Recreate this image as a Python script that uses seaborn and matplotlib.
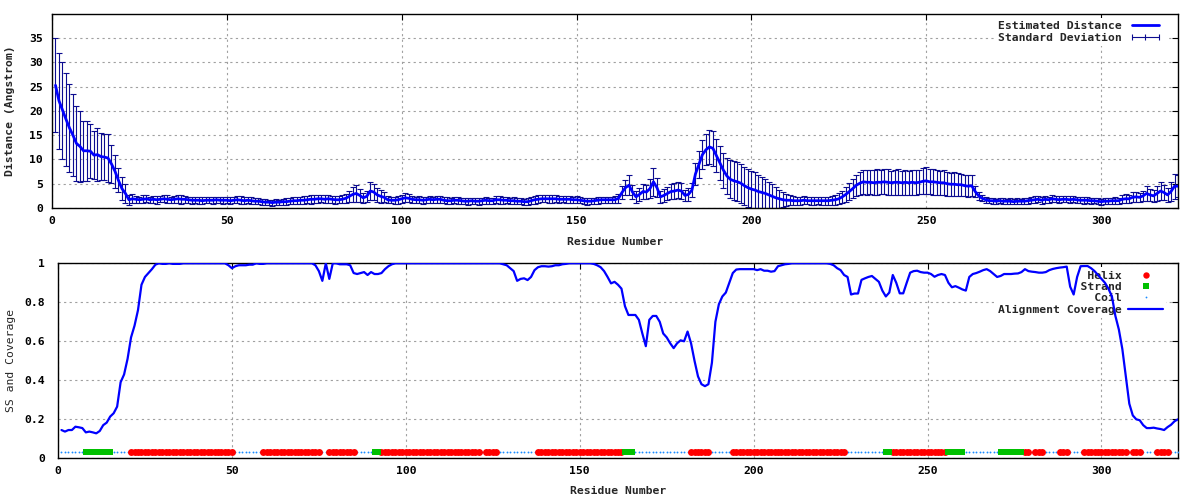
import numpy as np
import seaborn as sns
from matplotlib import pyplot as plt
from matplotlib.lines import Line2D


# --- Data (one value per residue) ---
residue = np.arange(1, 323)

distance = [
    25.3, 22.1, 20.2, 18.3, 16.5, 15.0, 13.3, 12.7, 11.8, 11.8,
    11.7, 10.9, 11.0, 10.6, 10.5, 10.3, 9.1, 7.6, 5.7, 4.0,
    3.0, 1.7, 1.9, 1.8, 1.7, 1.8, 1.9, 1.7, 1.8, 1.7,
    1.8, 1.9, 1.8, 1.7, 1.8, 1.9, 1.8, 1.8, 1.7, 1.6,
    1.6, 1.6, 1.5, 1.6, 1.6, 1.6, 1.7, 1.6, 1.6, 1.6,
    1.5, 1.6, 1.7, 1.6, 1.5, 1.6, 1.5, 1.4, 1.4, 1.3,
    1.2, 1.2, 1.1, 1.2, 1.2, 1.3, 1.3, 1.4, 1.5, 1.5,
    1.6, 1.6, 1.7, 1.8, 1.8, 1.9, 1.9, 1.8, 1.9, 1.8,
    1.7, 1.7, 1.8, 2.0, 2.4, 2.8, 3.0, 2.6, 2.1, 2.4,
    3.5, 3.3, 2.7, 2.4, 2.2, 1.7, 1.6, 1.6, 1.7, 1.9,
    2.1, 2.0, 1.8, 1.7, 1.7, 1.6, 1.7, 1.8, 1.7, 1.8,
    1.8, 1.6, 1.5, 1.5, 1.6, 1.6, 1.5, 1.4, 1.4, 1.5,
    1.4, 1.4, 1.5, 1.6, 1.5, 1.5, 1.7, 1.7, 1.6, 1.6,
    1.5, 1.5, 1.4, 1.4, 1.3, 1.3, 1.5, 1.7, 1.8, 1.9,
    1.9, 1.9, 1.9, 1.9, 1.8, 1.8, 1.8, 1.8, 1.7, 1.7,
    1.6, 1.5, 1.4, 1.4, 1.5, 1.6, 1.7, 1.7, 1.7, 1.7,
    1.7, 2.0, 3.2, 4.2, 4.7, 3.3, 2.3, 2.8, 3.4, 3.3,
    4.0, 5.4, 4.2, 2.3, 2.6, 3.0, 3.4, 3.5, 3.7, 3.5,
    2.6, 2.8, 3.7, 7.0, 9.0, 11.0, 12.0, 12.6, 12.3, 10.8,
    9.3, 7.8, 6.6, 5.9, 5.6, 5.4, 5.1, 4.6, 4.2, 3.9,
    3.7, 3.4, 3.2, 3.0, 2.7, 2.4, 2.1, 1.9, 1.7, 1.6,
    1.6, 1.5, 1.5, 1.5, 1.6, 1.5, 1.5, 1.5, 1.5, 1.5,
    1.5, 1.5, 1.6, 1.7, 1.9, 2.3, 2.8, 3.4, 4.0, 4.7,
    5.1, 5.4, 5.3, 5.3, 5.2, 5.3, 5.3, 5.4, 5.3, 5.2,
    5.3, 5.3, 5.2, 5.3, 5.2, 5.3, 5.2, 5.3, 5.5, 5.6,
    5.4, 5.4, 5.3, 5.2, 5.2, 5.0, 4.9, 4.9, 4.8, 4.8,
    4.6, 4.5, 4.6, 3.4, 2.5, 2.0, 1.7, 1.5, 1.5, 1.4,
    1.5, 1.4, 1.4, 1.4, 1.3, 1.4, 1.4, 1.4, 1.5, 1.6,
    1.7, 1.8, 1.6, 1.8, 1.7, 1.9, 1.8, 1.7, 1.8, 1.8,
    1.7, 1.8, 1.7, 1.6, 1.6, 1.6, 1.5, 1.5, 1.4, 1.3,
    1.4, 1.4, 1.5, 1.5, 1.5, 1.8, 1.9, 1.9, 2.2, 2.3,
    2.2, 2.5, 3.0, 2.7, 2.5, 3.0, 3.5, 3.2, 2.7, 3.4,
    4.5, 4.5,
]

std_dev = [
    9.7, 9.9, 10.0, 9.6, 9.0, 8.5, 7.7, 7.3, 6.2, 6.2,
    5.6, 5.0, 5.4, 4.9, 4.8, 4.9, 3.9, 3.4, 2.5, 2.4,
    2.0, 1.0, 0.9, 0.7, 0.6, 0.8, 0.7, 0.6, 0.7, 0.8,
    0.6, 0.7, 0.8, 0.6, 0.7, 0.8, 0.9, 0.7, 0.6, 0.7,
    0.6, 0.7, 0.7, 0.6, 0.6, 0.7, 0.6, 0.6, 0.7, 0.6,
    0.7, 0.6, 0.7, 0.8, 0.7, 0.6, 0.7, 0.6, 0.6, 0.6,
    0.6, 0.5, 0.6, 0.6, 0.5, 0.6, 0.7, 0.6, 0.7, 0.7,
    0.7, 0.8, 0.7, 0.9, 0.8, 0.8, 0.7, 0.8, 0.8, 0.7,
    0.8, 0.7, 0.8, 0.9, 1.2, 1.5, 1.7, 1.4, 1.0, 1.2,
    1.8, 1.6, 1.4, 1.3, 1.0, 0.7, 0.6, 0.7, 0.8, 0.8,
    0.9, 0.8, 0.7, 0.6, 0.7, 0.7, 0.6, 0.7, 0.6, 0.7,
    0.7, 0.6, 0.7, 0.6, 0.6, 0.7, 0.6, 0.6, 0.7, 0.6,
    0.6, 0.7, 0.6, 0.7, 0.6, 0.6, 0.7, 0.8, 0.7, 0.6,
    0.6, 0.7, 0.6, 0.6, 0.6, 0.7, 0.7, 0.8, 0.8, 0.7,
    0.7, 0.8, 0.8, 0.7, 0.7, 0.6, 0.7, 0.7, 0.6, 0.7,
    0.6, 0.6, 0.7, 0.6, 0.6, 0.7, 0.6, 0.6, 0.6, 0.6,
    0.7, 0.9, 1.3, 1.6, 2.1, 1.5, 1.2, 1.4, 1.6, 1.5,
    2.0, 2.9, 2.0, 1.2, 1.3, 1.4, 1.5, 1.6, 1.7, 1.6,
    1.2, 1.3, 1.5, 2.2, 2.8, 3.0, 3.2, 3.5, 3.6, 3.4,
    3.5, 3.6, 3.8, 3.9, 4.0, 4.0, 4.0, 3.9, 3.9, 3.8,
    3.7, 3.5, 3.2, 3.0, 2.7, 2.5, 2.2, 1.8, 1.5, 1.2,
    1.0, 0.9, 0.8, 0.8, 0.8, 0.7, 0.8, 0.8, 0.7, 0.8,
    0.8, 0.8, 0.9, 1.0, 1.1, 1.3, 1.5, 1.8, 2.0, 2.2,
    2.4, 2.5, 2.6, 2.5, 2.6, 2.7, 2.5, 2.6, 2.7, 2.5,
    2.6, 2.7, 2.5, 2.6, 2.5, 2.6, 2.6, 2.5, 2.7, 2.8,
    2.6, 2.7, 2.6, 2.5, 2.6, 2.5, 2.4, 2.5, 2.4, 2.3,
    2.2, 2.3, 2.2, 1.2, 0.8, 0.6, 0.6, 0.5, 0.6, 0.5,
    0.5, 0.6, 0.5, 0.6, 0.5, 0.6, 0.5, 0.6, 0.6, 0.6,
    0.7, 0.6, 0.7, 0.7, 0.6, 0.7, 0.6, 0.7, 0.6, 0.6,
    0.7, 0.6, 0.6, 0.6, 0.7, 0.6, 0.6, 0.5, 0.6, 0.6,
    0.6, 0.6, 0.6, 0.7, 0.6, 0.8, 0.9, 0.8, 1.0, 1.0,
    0.9, 1.1, 1.5, 1.2, 1.3, 1.6, 1.9, 1.5, 1.4, 2.0,
    2.6, 2.3,
]

coverage = [
    0.145, 0.137, 0.145, 0.145, 0.162, 0.159, 0.155, 0.133, 0.137, 0.133,
    0.128, 0.140, 0.170, 0.183, 0.214, 0.231, 0.265, 0.390, 0.430, 0.510,
    0.620, 0.680, 0.760, 0.890, 0.930, 0.950, 0.970, 0.993, 1.000, 0.997,
    0.997, 1.000, 0.997, 0.997, 0.997, 1.000, 1.000, 1.000, 1.000, 1.000,
    1.000, 1.000, 1.000, 1.000, 1.000, 1.000, 1.000, 1.000, 0.990, 0.975,
    0.985, 0.990, 0.990, 0.990, 0.993, 0.993, 1.000, 0.997, 0.997, 1.000,
    1.000, 1.000, 1.000, 1.000, 1.000, 1.000, 1.000, 1.000, 1.000, 1.000,
    1.000, 1.000, 1.000, 0.990, 0.960, 0.910, 1.000, 0.920, 1.000, 1.000,
    0.995, 0.995, 0.995, 0.990, 0.950, 0.945, 0.950, 0.955, 0.940, 0.955,
    0.945, 0.945, 0.950, 0.970, 0.985, 0.995, 1.000, 1.000, 1.000, 1.000,
    1.000, 1.000, 1.000, 1.000, 1.000, 1.000, 1.000, 1.000, 1.000, 1.000,
    1.000, 1.000, 1.000, 1.000, 1.000, 1.000, 1.000, 1.000, 1.000, 1.000,
    1.000, 1.000, 1.000, 1.000, 1.000, 1.000, 1.000, 0.995, 0.990, 0.975,
    0.960, 0.910, 0.920, 0.923, 0.914, 0.930, 0.965, 0.980, 0.985, 0.985,
    0.983, 0.985, 0.990, 0.990, 0.995, 0.997, 1.000, 1.000, 1.000, 1.000,
    1.000, 1.000, 1.000, 0.997, 0.990, 0.980, 0.960, 0.930, 0.897, 0.905,
    0.890, 0.870, 0.780, 0.735, 0.735, 0.735, 0.710, 0.640, 0.575, 0.710,
    0.730, 0.730, 0.700, 0.640, 0.620, 0.590, 0.565, 0.590, 0.605, 0.600,
    0.650, 0.590, 0.500, 0.420, 0.380, 0.370, 0.380, 0.490, 0.700, 0.790,
    0.830, 0.850, 0.900, 0.950, 0.968, 0.970, 0.970, 0.970, 0.970, 0.970,
    0.965, 0.970, 0.962, 0.962, 0.957, 0.960, 0.985, 0.990, 0.995, 0.997,
    1.000, 1.000, 1.000, 1.000, 1.000, 1.000, 1.000, 1.000, 1.000, 1.000,
    1.000, 0.997, 0.990, 0.975, 0.965, 0.940, 0.930, 0.840, 0.845, 0.845,
    0.915, 0.923, 0.930, 0.935, 0.920, 0.905, 0.860, 0.830, 0.850, 0.940,
    0.900, 0.846, 0.846, 0.900, 0.952, 0.960, 0.962, 0.955, 0.952, 0.952,
    0.945, 0.931, 0.940, 0.945, 0.940, 0.900, 0.877, 0.883, 0.875, 0.866,
    0.860, 0.930, 0.945, 0.950, 0.957, 0.965, 0.970, 0.960, 0.945, 0.930,
    0.935, 0.945, 0.945, 0.945, 0.947, 0.948, 0.955, 0.970, 0.960, 0.957,
    0.955, 0.952, 0.952, 0.955, 0.965, 0.971, 0.975, 0.978, 0.980, 0.983,
    0.880, 0.840, 0.930, 0.985, 0.986, 0.986, 0.975, 0.960, 0.940, 0.920,
    0.900, 0.870, 0.830, 0.730, 0.660, 0.560, 0.420, 0.280, 0.220, 0.200,
    0.195, 0.170, 0.155, 0.155, 0.157, 0.153, 0.150, 0.145, 0.160, 0.172,
    0.190, 0.200,
]

# secondary structure as runs: H = helix, E = strand, C = coil
ss_type = ["C", "E", "C", "H", "C", "H", "C", "H", "C", "E", "H", "C", "H",
           "C", "H", "E", "C", "H", "C", "H", "C", "E", "H", "E", "C", "E",
           "H", "C", "H", "C", "H", "C", "H", "C", "H", "C", "H", "C"]
ss_first = [1, 8, 16, 21, 51, 59, 76, 78, 86, 91, 93, 122, 123,
            127, 138, 163, 166, 182, 188, 194, 227, 238, 240, 256, 261, 271,
            278, 280, 281, 284, 288, 291, 295, 308, 309, 312, 316, 320]
ss_last = [7, 15, 20, 50, 58, 75, 77, 85, 90, 92, 121, 122, 126,
           137, 162, 165, 181, 187, 193, 226, 237, 239, 255, 260, 270, 277,
           279, 280, 283, 287, 290, 294, 307, 308, 311, 315, 319, 322]

dist_ticks = [0, 5, 10, 15, 20, 25, 30, 35]
cov_ticks = [0, 0.2, 0.4, 0.6, 0.8, 1]
res_ticks = [0, 50, 100, 150, 200, 250, 300]

# --- Style ---
BLUE = "#0000ff"
NAVY = "#0c0c90"
RED = "#ff0000"
GREEN = "#00c000"
COIL = "#1a8cff"
GRID = "#a0a0a0"
SS_Y = 0.03
FS = 8.2

sns.set_style("white")
plt.rcParams['font.family'] = ['DejaVu Sans Mono', 'DejaVu Sans']
plt.rcParams['font.weight'] = 'bold'

ss = np.empty(len(residue), dtype=object)
for kind, first, last in zip(ss_type, ss_first, ss_last):
    ss[first - 1:last] = kind


def style_axes(ax, yticks, ypad):
    ax.set_xlim(0, 322)
    ax.set_xticks(res_ticks)
    ax.set_yticks(yticks)
    ax.grid(True, color=GRID, linestyle=(0, (2, 3)), linewidth=0.8)
    ax.set_axisbelow(True)
    for sp in ax.spines.values():
        sp.set_color("black")
        sp.set_linewidth(1.0)
    ax.tick_params(direction="in", length=4, width=0.8, top=True, right=True,
                   labelsize=FS, colors="black")
    ax.tick_params(axis="x", pad=5.5)
    ax.tick_params(axis="y", pad=ypad)


def key(ax, handles, labels, numpoints):
    leg = ax.legend(handles, labels, loc="upper right", bbox_to_anchor=(0.9893, 0.98),
                    numpoints=numpoints, markerfirst=False, frameon=True,
                    facecolor="white", edgecolor="none", framealpha=1, fancybox=False,
                    borderpad=0.3, borderaxespad=0, handlelength=3.0, handletextpad=0.6,
                    labelspacing=0.12, prop={"size": FS, "weight": "bold",
                                              "family": "DejaVu Sans Mono"})
    return leg


fig = plt.figure(figsize=(12, 5), dpi=100)
ax1 = fig.add_axes([52 / 1200, 1 - 208 / 500, 1126 / 1200, 194 / 500])
ax2 = fig.add_axes([58 / 1200, 1 - 458.3 / 500, 1120 / 1200, 195 / 500])

# --- Top: estimated distance with standard deviation ---
ax1.errorbar(residue, distance, yerr=std_dev, fmt="none", ecolor=NAVY,
             elinewidth=0.8, capsize=1.9, capthick=0.8, zorder=2)
sns.lineplot(x=residue, y=distance, ax=ax1, color=BLUE, linewidth=2, zorder=3)
ax1.set_ylim(0, 40)
style_axes(ax1, dist_ticks, 6.3)
ax1.set_xlabel("Residue Number", fontsize=FS, fontweight="bold")
ax1.set_ylabel("Distance (Angstrom)", fontsize=FS, fontweight="bold")
ax1.xaxis.set_label_coords(0.5, -0.174)
ax1.xaxis.label.set_va("center")
ax1.yaxis.set_label_coords(-0.0369, 0.5)
ax1.yaxis.label.set_va("center")
key(ax1,
    [Line2D([], [], color=BLUE, lw=2),
     Line2D([], [], color=NAVY, lw=0.8, marker="|", markersize=5, markeredgewidth=0.8)],
    ["Estimated Distance", "Standard Deviation"], 3)

# --- Bottom: secondary structure and alignment coverage ---
coil = ss == "C"
helix = ss == "H"
strand = ss == "E"
sns.scatterplot(x=residue[coil], y=np.full(coil.sum(), SS_Y), ax=ax2, color=COIL,
                marker="o", s=1.8, linewidth=0, zorder=3)
sns.scatterplot(x=residue[helix], y=np.full(helix.sum(), SS_Y), ax=ax2, color=RED,
                marker="o", s=25, linewidth=0, zorder=3)
sns.scatterplot(x=residue[strand], y=np.full(strand.sum(), SS_Y), ax=ax2, color=GREEN,
                marker="s", s=25, linewidth=0, zorder=3)
sns.lineplot(x=residue, y=coverage, ax=ax2, color=BLUE, linewidth=1.6, zorder=6)
ax2.set_ylim(0, 1)
style_axes(ax2, cov_ticks, 9.4)
ax2.set_yticklabels([f"{t:g}" for t in cov_ticks])
ax2.set_xlabel("Residue Number", fontsize=FS, fontweight="bold")
ax2.set_ylabel("SS and Coverage", fontsize=FS, fontweight="normal")
ax2.xaxis.set_label_coords(0.5, -0.166)
ax2.xaxis.label.set_va("center")
ax2.yaxis.set_label_coords(-0.0422, 0.5)
ax2.yaxis.label.set_va("center")
labels = [t.rjust(18) for t in ["Helix", "Strand", "Coil", "Alignment Coverage"]]
key(ax2,
    [Line2D([], [], color=RED, marker="o", markersize=4.6, ls="none", mew=0),
     Line2D([], [], color=GREEN, marker="s", markersize=5.0, ls="none", mew=0),
     Line2D([], [], color=COIL, marker="o", markersize=1.3, ls="none", mew=0),
     Line2D([], [], color=BLUE, lw=1.6)],
    labels, 1)

plt.savefig("out.png", dpi=100)
